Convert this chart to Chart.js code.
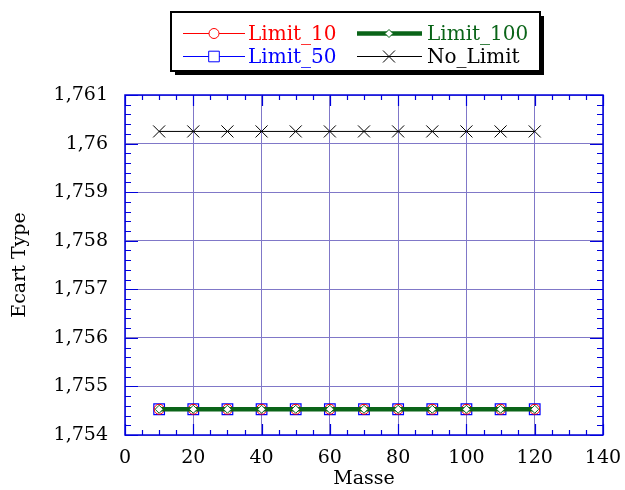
<!DOCTYPE html>
<html>
<head>
<meta charset="utf-8">
<script src="https://cdn.jsdelivr.net/npm/chart.js@4.4.0/dist/chart.umd.min.js"></script>
<style>
  html, body { margin: 0; padding: 0; background: #fff; }
  #warm { font-family: "DejaVu Serif"; position: absolute; left: -999px; top: 0; }
</style>
</head>
<body>
<span id="warm">Limit_10 Limit_50 1,761</span>
<canvas id="chart" width="625" height="490"></canvas>
<script>
// --- data ---
const masse = [10, 20, 30, 40, 50, 60, 70, 80, 90, 100, 110, 120];
const limit10 = [1.75453, 1.75453, 1.75453, 1.75453, 1.75453, 1.75453, 1.75453, 1.75453, 1.75453, 1.75453, 1.75453, 1.75453];
const limit50 = [1.75453, 1.75453, 1.75453, 1.75453, 1.75453, 1.75453, 1.75453, 1.75453, 1.75453, 1.75453, 1.75453, 1.75453];
const limit100 = [1.75453, 1.75453, 1.75453, 1.75453, 1.75453, 1.75453, 1.75453, 1.75453, 1.75453, 1.75453, 1.75453, 1.75453];
const noLimit = [1.76025, 1.76025, 1.76025, 1.76025, 1.76025, 1.76025, 1.76025, 1.76025, 1.76025, 1.76025, 1.76025, 1.76025];
const xTicks = [0, 20, 40, 60, 80, 100, 120, 140];
const yTicks = [1.754, 1.755, 1.756, 1.757, 1.758, 1.759, 1.76, 1.761];

const FONT = 'DejaVu Serif';
const GRID = '#8078c8';
const AXIS = '#0000dd';

const pts = arr => arr.map((y, i) => ({ x: masse[i], y: y }));

// axis frame + inward ticks on all four sides
const framePlugin = {
  id: 'frame',
  afterDraw(chart) {
    const { ctx, chartArea: a, scales: { x, y } } = chart;
    ctx.save();
    ctx.strokeStyle = AXIS;
    ctx.lineWidth = 1.5;
    ctx.strokeRect(a.left, a.top, a.right - a.left, a.bottom - a.top);
    ctx.lineWidth = 1.2;
    ctx.beginPath();
    for (let i = 0; i <= 28; i++) {
      const px = Math.round(x.getPixelForValue(i * 5)) + 0.5;
      const len = i % 4 === 0 ? 11 : 5;
      ctx.moveTo(px, a.bottom); ctx.lineTo(px, a.bottom - len);
      ctx.moveTo(px, a.top); ctx.lineTo(px, a.top + len);
    }
    for (let i = 0; i <= 35; i++) {
      const py = Math.round(y.getPixelForValue(1.754 + i * 0.0002)) + 0.5;
      const len = i % 5 === 0 ? 13 : 6;
      ctx.moveTo(a.left, py); ctx.lineTo(a.left + len, py);
      ctx.moveTo(a.right, py); ctx.lineTo(a.right - len, py);
    }
    ctx.stroke();
    ctx.restore();
  }
};

// boxed two-column legend with drop shadow
const legendPlugin = {
  id: 'boxLegend',
  afterDraw(chart) {
    const ctx = chart.ctx;
    const ds = chart.data.datasets;
    const order = ['Limit_10', 'Limit_100', 'Limit_50', 'No_Limit'];
    const cols = [{ l: 183, r: 245, m: 214, t: 248 }, { l: 357, r: 422, m: 389, t: 427 }];
    const rows = [33, 56];
    ctx.save();
    ctx.fillStyle = '#000';
    ctx.fillRect(175, 16, 369, 59);
    ctx.fillStyle = '#fff';
    ctx.fillRect(171, 12, 369, 59);
    ctx.strokeStyle = '#000';
    ctx.lineWidth = 2;
    ctx.strokeRect(171, 12, 369, 59);
    order.forEach((name, k) => {
      const d = ds.find(s => s.label === name);
      const c = cols[k % 2], yy = rows[Math.floor(k / 2)] + 0.5;
      ctx.strokeStyle = d.borderColor;
      ctx.lineWidth = d.borderWidth;
      ctx.beginPath(); ctx.moveTo(c.l, yy); ctx.lineTo(c.r, yy); ctx.stroke();
      ctx.fillStyle = '#fff';
      ctx.lineWidth = 1;
      Chart.helpers.drawPoint(ctx, {
        pointStyle: d.pointStyle, radius: d.legendRadius, borderWidth: 1, rotation: 0
      }, c.m, yy);
      ctx.fillStyle = d.borderColor;
      ctx.font = '20px "' + FONT + '"';
      ctx.textBaseline = 'middle';
      ctx.fillText(name, c.t, yy + 1);
    });
    ctx.restore();
  }
};

function draw() {
  new Chart(document.getElementById('chart'), {
    type: 'line',
    data: {
      datasets: [
        { label: 'Limit_10', data: pts(limit10), borderColor: '#ff0000', borderWidth: 1,
          pointStyle: 'circle', pointRadius: 5, legendRadius: 5, pointBorderWidth: 1,
          pointBackgroundColor: 'rgba(0,0,0,0)', order: 2 },
        { label: 'Limit_100', data: pts(limit100), borderColor: '#0a6418', borderWidth: 4.5,
          pointStyle: 'rectRot', pointRadius: 4, legendRadius: 4, pointBorderWidth: 1,
          pointBackgroundColor: '#fff', order: 1 },
        { label: 'Limit_50', data: pts(limit50), borderColor: '#0000ff', borderWidth: 1,
          pointStyle: 'rect', pointRadius: 7.5, legendRadius: 7.5, pointBorderWidth: 1.2,
          pointBackgroundColor: 'rgba(0,0,0,0)', order: 3 },
        { label: 'No_Limit', data: pts(noLimit), borderColor: '#000000', borderWidth: 1,
          pointStyle: 'crossRot', pointRadius: 8.5, legendRadius: 8.5, pointBorderWidth: 1, order: 0 }
      ]
    },
    options: {
      responsive: false,
      animation: false,
      layout: { padding: { top: 95, right: 22, left: 0, bottom: 0 } },
      plugins: { legend: { display: false }, tooltip: { enabled: false } },
      scales: {
        x: {
          type: 'linear', min: 0, max: 140,
          afterBuildTicks: s => { s.ticks = xTicks.map(v => ({ value: v })); },
          afterFit: s => { s.height = 55; s.paddingLeft = 0; s.paddingRight = 0; },
          grid: { color: GRID, lineWidth: 1, drawTicks: false },
          border: { display: false },
          ticks: { color: '#000', padding: 12, maxRotation: 0, font: { family: FONT, size: 19 } },
          title: { display: true, text: 'Masse', color: '#000', padding: { top: 0, bottom: 0 },
            font: { family: FONT, size: 19 } }
        },
        y: {
          type: 'linear', min: 1.754, max: 1.761,
          afterBuildTicks: s => { s.ticks = yTicks.map(v => ({ value: v })); },
          afterFit: s => { s.width = 125; s.paddingTop = 0; s.paddingBottom = 0; },
          grid: { color: GRID, lineWidth: 1, drawTicks: false },
          border: { display: false },
          ticks: { color: '#000', padding: 17, font: { family: FONT, size: 19 },
            callback: v => String(+v.toFixed(3)).replace('.', ',') },
          title: { display: true, text: 'Ecart Type', color: '#000', padding: { top: 9, bottom: 0 },
            font: { family: FONT, size: 19 } }
        }
      }
    },
    plugins: [framePlugin, legendPlugin]
  });
}

if (document.fonts && document.fonts.load) {
  document.fonts.load('20px "' + FONT + '"').then(draw, draw);
} else {
  draw();
}
</script>
</body>
</html>
